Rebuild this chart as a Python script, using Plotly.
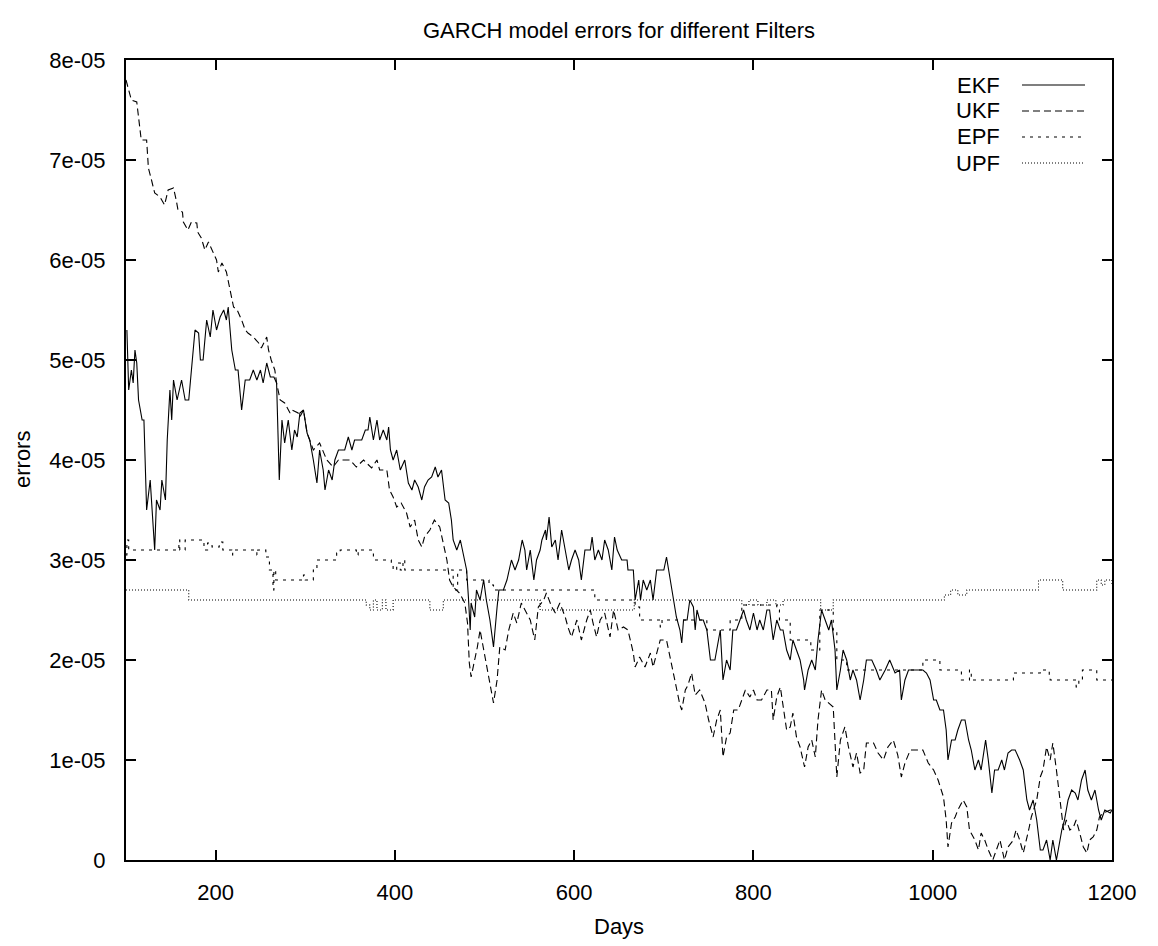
import plotly.graph_objects as go

# ---------------- data (values in units of 1e-05) ----------------
ekf_days = [101,103,106,108,110,112,114,118,120,122,123,127,132,134,138,140,144,146,147,149,151,153,157,162,166,170,173,177,181,183,186,190,194,197,201,205,209,212,214,218,222,225,229,233,238,242,246,250,253,257,261,265,268,270,271,274,277,281,285,288,291,294,298,302,305,309,313,316,320,322,326,330,333,337,344,348,352,355,363,367,370,372,376,380,383,387,391,393,395,398,402,406,411,415,419,422,426,430,433,437,441,445,448,452,456,460,463,465,469,473,476,480,482,484,485,489,491,495,499,502,506,510,514,516,521,525,530,534,538,542,545,547,551,555,558,562,564,568,569,572,575,579,582,586,590,594,597,601,605,608,612,618,620,623,627,631,634,638,642,645,648,653,659,660,666,668,672,674,677,681,685,688,692,700,703,707,711,714,718,720,722,726,729,733,735,737,740,744,748,752,757,761,763,766,770,774,777,781,785,789,792,796,800,804,807,811,815,818,822,826,830,833,837,841,844,848,852,856,857,861,865,869,872,876,880,884,887,891,893,897,900,904,908,911,915,919,923,926,932,937,941,947,952,958,963,965,969,973,978,982,989,993,997,1001,1004,1008,1012,1015,1017,1021,1025,1028,1032,1036,1040,1043,1047,1051,1054,1059,1062,1066,1069,1073,1077,1080,1084,1088,1092,1097,1101,1105,1108,1112,1116,1120,1123,1127,1131,1134,1138,1144,1147,1151,1155,1159,1162,1166,1170,1173,1177,1181,1185,1188,1192,1198,1200]
ekf_vals = [5.3,4.7,4.9,4.77,5.1,4.97,4.6,4.4,4.4,3.7,3.5,3.8,3.1,3.6,3.5,3.8,3.6,4.2,4.4,4.7,4.4,4.8,4.6,4.8,4.6,4.6,4.9,5.3,5.27,5.0,5.0,5.4,5.23,5.5,5.3,5.43,5.5,5.4,5.53,5.1,4.9,4.9,4.5,4.8,4.8,4.9,4.8,4.9,4.77,4.97,4.83,4.83,4.77,4.0,3.8,4.4,4.17,4.4,4.1,4.3,4.23,4.47,4.5,4.27,4.2,4.0,3.77,4.1,3.9,3.7,3.9,3.8,4.0,4.1,4.1,4.23,4.1,4.2,4.2,4.3,4.3,4.43,4.2,4.4,4.2,4.3,4.2,4.33,4.1,4.0,4.1,3.9,4.0,3.77,3.7,3.8,3.73,3.6,3.73,3.8,3.83,3.93,3.83,3.9,3.6,3.57,3.4,3.2,3.1,3.2,3.07,2.9,2.63,2.3,2.57,2.43,2.7,2.6,2.8,2.6,2.4,2.13,2.53,2.7,2.7,2.8,3.0,2.9,3.0,3.2,3.1,2.9,3.1,2.8,3.0,3.1,3.2,3.3,3.2,3.43,3.13,3.2,3.0,3.3,3.1,2.9,3.0,3.1,3.0,2.8,3.1,3.1,3.23,3.0,3.1,3.0,3.2,3.1,2.9,3.23,3.1,3.0,3.0,2.9,2.9,2.6,2.8,2.6,2.8,2.7,2.8,2.6,2.9,2.9,3.03,2.8,2.6,2.43,2.3,2.17,2.4,2.4,2.6,2.53,2.3,2.5,2.4,2.4,2.3,2.0,2.0,2.2,2.3,1.8,2.0,1.9,2.3,2.3,2.4,2.5,2.4,2.3,2.47,2.3,2.4,2.3,2.5,2.5,2.2,2.4,2.3,2.3,2.1,2.0,2.2,2.1,2.0,1.8,1.7,1.9,2.0,1.9,2.2,2.5,2.4,2.3,2.4,2.1,1.7,1.9,2.1,2.0,1.8,1.9,1.8,1.6,1.8,2.0,2.0,1.9,1.8,1.9,2.0,1.87,1.9,1.6,1.8,1.9,1.9,1.9,1.9,1.87,1.8,1.6,1.6,1.5,1.5,1.3,1.0,1.2,1.2,1.3,1.4,1.4,1.2,1.1,0.9,1.0,0.9,1.2,1.0,0.67,0.9,0.9,1.0,0.9,1.07,1.1,1.1,1.0,0.9,0.6,0.5,0.6,0.4,0.1,0.1,0.2,0.0,0.2,0.0,0.3,0.4,0.6,0.7,0.67,0.6,0.8,0.9,0.7,0.6,0.7,0.5,0.4,0.5,0.47,0.5]

ukf_days = [100,106,112,114,117,123,125,129,132,138,143,147,153,156,158,163,164,169,173,179,180,184,188,192,196,201,203,207,212,216,220,224,229,233,236,242,248,251,257,259,262,266,268,272,277,283,285,292,294,298,302,309,316,324,331,337,350,357,365,374,380,383,391,394,398,402,407,413,417,422,426,430,433,439,444,450,454,458,461,465,472,478,481,483,485,489,492,495,499,504,510,514,517,523,527,532,536,541,547,551,556,560,566,569,575,579,584,590,593,597,603,608,614,618,621,625,629,634,640,644,649,655,660,666,668,673,679,685,688,692,696,703,709,714,718,720,724,727,731,735,740,746,750,755,759,763,766,770,774,778,783,787,791,796,800,804,809,815,820,822,826,830,833,837,841,844,848,852,857,861,865,869,872,876,880,884,889,893,897,902,906,911,915,919,923,926,934,939,945,950,956,961,965,969,975,982,989,995,1001,1006,1012,1015,1017,1021,1025,1028,1034,1038,1041,1047,1051,1054,1058,1062,1067,1071,1075,1080,1084,1090,1093,1097,1101,1107,1110,1116,1120,1123,1127,1131,1134,1138,1142,1146,1149,1153,1157,1160,1164,1168,1172,1175,1179,1183,1186,1190,1198,1200]
ukf_vals = [7.8,7.6,7.58,7.4,7.2,7.2,6.92,6.78,6.67,6.63,6.55,6.7,6.72,6.6,6.5,6.48,6.38,6.3,6.38,6.37,6.28,6.22,6.1,6.18,6.1,6.0,5.88,5.97,5.88,5.7,5.53,5.5,5.4,5.3,5.27,5.23,5.17,5.12,5.23,5.1,5.0,4.9,4.77,4.6,4.57,4.47,4.5,4.47,4.43,4.5,4.27,4.1,4.17,4.0,3.93,4.0,4.0,3.93,4.0,3.92,4.0,3.9,3.9,3.7,3.63,3.53,3.57,3.47,3.33,3.4,3.2,3.13,3.23,3.3,3.4,3.33,3.17,3.0,2.8,2.73,2.67,2.57,2.37,1.97,1.83,2.0,2.13,2.3,2.1,1.87,1.57,1.8,2.13,2.1,2.3,2.47,2.37,2.57,2.47,2.4,2.2,2.53,2.6,2.67,2.53,2.47,2.57,2.43,2.33,2.23,2.4,2.2,2.4,2.5,2.37,2.23,2.4,2.47,2.23,2.5,2.3,2.33,2.3,2.07,1.93,2.03,1.93,2.07,1.93,2.07,2.2,2.2,1.93,1.73,1.55,1.5,1.7,1.75,1.87,1.65,1.7,1.57,1.4,1.23,1.4,1.5,1.03,1.23,1.27,1.5,1.5,1.6,1.7,1.63,1.7,1.6,1.6,1.7,1.7,1.4,1.63,1.73,1.53,1.3,1.33,1.47,1.23,1.13,0.93,1.13,1.2,1.03,1.4,1.7,1.6,1.57,1.53,0.83,1.2,1.33,1.13,0.93,1.07,0.87,0.9,1.17,1.17,1.07,1.0,1.13,1.2,1.05,0.83,0.97,1.1,1.1,1.1,0.97,0.9,0.8,0.63,0.4,0.13,0.37,0.43,0.5,0.6,0.53,0.3,0.2,0.1,0.27,0.2,0.1,0.0,0.1,0.2,0.0,0.13,0.2,0.3,0.2,0.07,0.3,0.43,0.6,0.83,0.9,1.13,1.0,1.17,0.9,0.6,0.3,0.4,0.3,0.33,0.4,0.27,0.13,0.07,0.2,0.23,0.3,0.43,0.47,0.5,0.5]

epf_days = [100,101,103,159,160,166,187,191,196,204,208,218,219,246,247,256,260,264,265,267,298,300,309,313,335,339,357,359,376,396,398,402,406,409,411,465,470,480,505,510,623,668,673,696,698,748,774,787,826,829,841,864,874,889,893,904,989,1008,1032,1041,1043,1090,1120,1130,1131,1160,1163,1167,1183,1200]
epf_vals = [3.05,3.2,3.1,3.2,3.1,3.2,3.1,3.17,3.13,3.18,3.1,3.05,3.1,3.05,3.1,3.03,2.9,2.7,2.9,2.8,2.85,2.8,2.9,3.0,3.07,3.1,3.05,3.1,3.0,2.95,2.9,2.97,2.9,3.0,2.9,2.7,2.9,2.8,2.75,2.7,2.6,2.53,2.4,2.33,2.4,2.3,2.4,2.55,2.5,2.4,2.2,2.1,2.5,2.3,2.0,1.9,2.0,1.9,1.8,1.9,1.8,1.87,1.9,1.85,1.8,1.73,1.8,1.9,1.8,1.8]

upf_days = [100,170,368,372,376,380,386,390,398,439,454,562,667,787,795,805,815,825,833,875,889,1013,1020,1028,1038,1118,1145,1183,1188,1192,1200]
upf_vals = [2.7,2.6,2.55,2.5,2.6,2.5,2.6,2.5,2.6,2.5,2.6,2.5,2.6,2.55,2.6,2.55,2.6,2.55,2.6,2.5,2.6,2.65,2.7,2.65,2.7,2.8,2.7,2.8,2.75,2.8,2.75]

series_names = ["EKF", "UKF", "EPF", "UPF"]
x_ticks = [200, 400, 600, 800, 1000, 1200]
y_ticks = [0, 1e-05, 2e-05, 3e-05, 4e-05, 5e-05, 6e-05, 7e-05, 8e-05]
y_tick_text = ["0", "1e-05", "2e-05", "3e-05", "4e-05", "5e-05", "6e-05", "7e-05", "8e-05"]

SCALE = 1e-05
FONT = "Liberation Sans, Arial, Helvetica, sans-serif"
dashes = {"EKF": "solid", "UKF": "7px,4px", "EPF": "3px,5px", "UPF": "1px,2px"}
shapes_line = {"EKF": "linear", "UKF": "linear", "EPF": "hv", "UPF": "hv"}
data = {
    "EKF": (ekf_days, ekf_vals),
    "UKF": (ukf_days, ukf_vals),
    "EPF": (epf_days, epf_vals),
    "UPF": (upf_days, upf_vals),
}

fig = go.Figure()
for name in series_names:
    d, v = data[name]
    fig.add_trace(go.Scatter(
        x=d, y=[val * SCALE for val in v], mode="lines", name=name,
        line=dict(color="black", width=1.1, dash=dashes[name], shape=shapes_line[name]),
        showlegend=False,
    ))

# page body has an 8px margin: figure coords = screen coords - 8
OFF = 8
FW, FH = 1150, 938
L, R, T, B = 126 - OFF, 1112 - OFF, 60 - OFF, 860 - OFF
W, H = R - L, B - T

# gnuplot-style key: label then line sample
row_y = [85 - OFF, 111 - OFF, 137 - OFF, 163 - OFF]
for name, py in zip(series_names, row_y):
    yp = (B - py) / H
    fig.add_annotation(
        x=(1002 - OFF - L) / W, y=yp, xref="paper", yref="paper",
        text=name, showarrow=False, xanchor="right", yanchor="middle",
        font=dict(family=FONT, size=22, color="black"),
    )
    fig.add_shape(
        type="line", xref="paper", yref="paper",
        x0=(1022 - OFF - L) / W, x1=(1085 - OFF - L) / W, y0=yp, y1=yp,
        line=dict(color="black", width=1.1, dash=dashes[name]),
    )

fig.add_annotation(
    x=0.5, y=(B - (926 - OFF)) / H, xref="paper", yref="paper", text="Days",
    showarrow=False, xanchor="center", yanchor="middle",
    font=dict(family=FONT, size=22, color="black"),
)
fig.add_annotation(
    x=(22 - OFF - L) / W, y=0.5, xref="paper", yref="paper", text="errors",
    showarrow=False, textangle=-90, xanchor="center", yanchor="middle",
    font=dict(family=FONT, size=22, color="black"),
)

fig.update_layout(
    width=FW, height=FH,
    margin=dict(l=L, r=FW - R, t=T, b=FH - B, pad=0),
    paper_bgcolor="white", plot_bgcolor="white",
    font=dict(family=FONT, size=22, color="black"),
    title=dict(text="GARCH model errors for different Filters", x=0.5, xref="paper",
               y=1 - (30 - OFF) / FH, yref="container", xanchor="center", yanchor="middle",
               font=dict(family=FONT, size=22, color="black")),
    xaxis=dict(range=[100, 1200], tickvals=x_ticks, ticks="inside", ticklen=10, tickwidth=1.5,
               tickcolor="black", showline=True, linecolor="black", linewidth=2, mirror="ticks",
               showgrid=False, zeroline=False, ticklabelstandoff=12),
    yaxis=dict(range=[0, 8e-05], tickvals=y_ticks, ticktext=y_tick_text, ticks="inside",
               ticklen=10, tickwidth=1.5, tickcolor="black", showline=True, linecolor="black",
               linewidth=2, mirror="ticks", showgrid=False, zeroline=False, ticklabelstandoff=14),
)

fig.write_html("out.html")
